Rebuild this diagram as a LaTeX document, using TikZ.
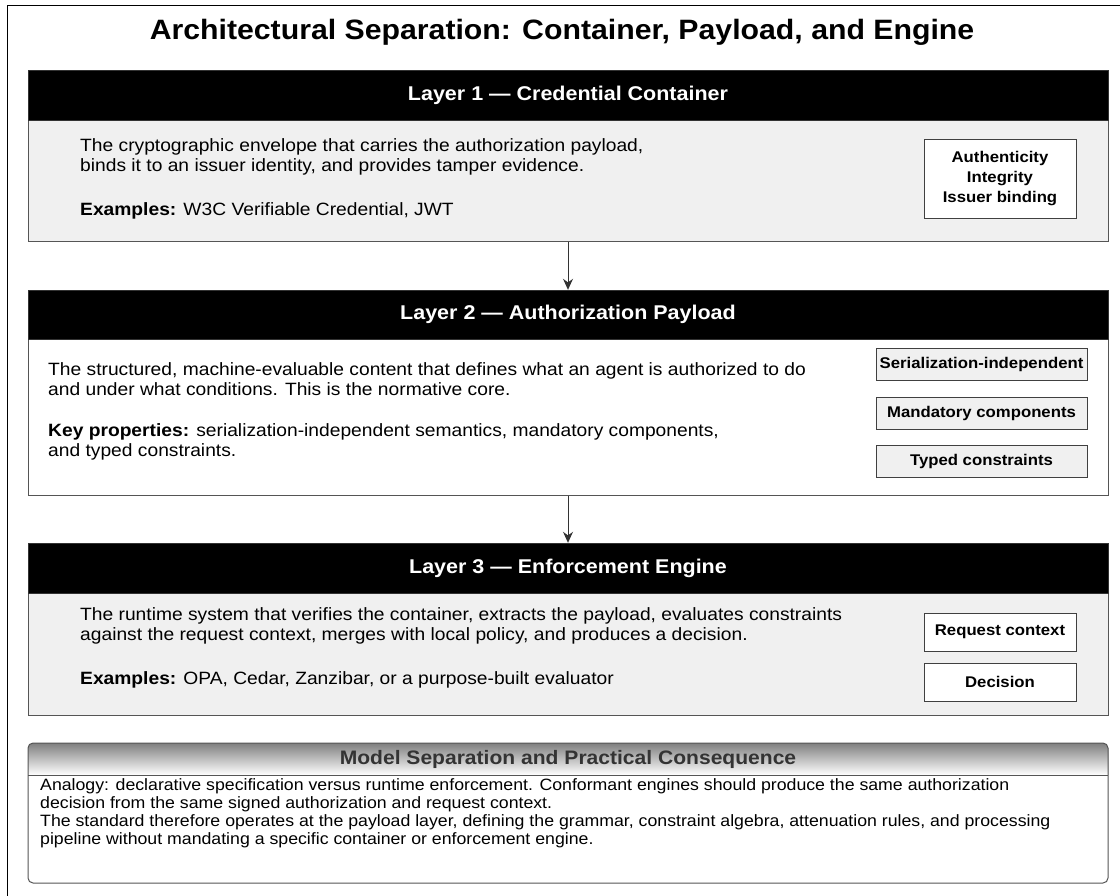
\documentclass[tikz,border=0pt]{standalone}
\usepackage{fontspec}
\setmainfont{Liberation Sans}[FakeStretch=1.08]
\usetikzlibrary{arrows.meta}
\definecolor{shade}{HTML}{F0F0F0}
\definecolor{edge}{HTML}{555555}

\begin{document}
\begin{tikzpicture}[
    x=1pt, y=-1pt,
    layerhead/.style={draw=black!80,fill=black,text=white,inner sep=0pt,minimum width=1080pt,
      font=\bfseries\fontsize{19.9}{23}\selectfont},
    layerbody/.style={draw=edge,line width=1pt,inner sep=0pt,minimum width=1080pt},
    desc/.style={anchor=west,align=left,inner sep=0pt,font=\fontsize{17.8}{20}\selectfont},
    tag/.style={draw=black!75,line width=1pt,align=center,inner sep=0pt,
      font=\bfseries\fontsize{15.5}{20}\selectfont},
    flow/.style={-{Stealth[length=11pt,width=10pt]},draw=black!80,line width=1pt}
    ]
    \useasboundingbox (0,0) rectangle (1120,895);
    \draw[line width=1pt] (7,5) rectangle (1140,915);
    \node[font=\bfseries\fontsize{28}{32}\selectfont] (title) at (562,32)
      {Architectural Separation: Container, Payload, and Engine};

    \node[layerbody,fill=shade,minimum height=121pt] (body1) at (568,180.5) {};
    \node[layerhead,minimum height=50pt] (head1) at (568,95) {Layer 1 — Credential Container};
    \node[desc] (desc1) at (80,157) {The cryptographic envelope that carries the authorization payload,\\
      binds it to an issuer identity, and provides tamper evidence.};
    \node[desc] (ex1) at (80,211) {\textbf{Examples:} W3C Verifiable Credential, JWT};
    \node[tag,fill=white,minimum width=152pt,minimum height=79pt] (props1) at (1000,178.5)
      {Authenticity\\Integrity\\Issuer binding};

    \node[layerbody,fill=white,minimum height=156pt] (body2) at (568,417) {};
    \node[layerhead,minimum height=49pt] (head2) at (568,314.5) {Layer 2 — Authorization Payload};
    \node[desc] (desc2) at (48,379) {The structured, machine-evaluable content that defines what an agent is authorized to do\\
      and under what conditions. This is the normative core.};
    \node[desc] (ex2) at (48,442) {\textbf{Key properties:} serialization-independent semantics, mandatory components,\\
      and typed constraints.};
    \node[tag,fill=shade,minimum width=211pt,minimum height=32pt] (serial) at (981.5,364) {Serialization-independent};
    \node[tag,fill=shade,minimum width=211pt,minimum height=32pt] (mandat) at (981.5,413) {Mandatory components};
    \node[tag,fill=shade,minimum width=211pt,minimum height=32pt] (typed) at (981.5,461) {Typed constraints};

    \node[layerbody,fill=shade,minimum height=122pt] (body3) at (568,654) {};
    \node[layerhead,minimum height=50pt] (head3) at (568,568) {Layer 3 — Enforcement Engine};
    \node[desc] (desc3) at (80,626) {The runtime system that verifies the container, extracts the payload, evaluates constraints\\
      against the request context, merges with local policy, and produces a decision.};
    \node[desc] (ex3) at (80,680) {\textbf{Examples:} OPA, Cedar, Zanzibar, or a purpose-built evaluator};
    \node[tag,fill=white,minimum width=152pt,minimum height=38pt] (request) at (1000,632) {Request context};
    \node[tag,fill=white,minimum width=152pt,minimum height=38pt] (decision) at (1000,682) {Decision};

    \draw[flow] (body1) -- (head2);
    \draw[flow] (body2) -- (head3);

    \fill[shade] (28,775) [rounded corners=5pt] -- (28,743) -- (1108,743) [sharp corners] -- (1108,775) -- cycle;
    \draw[edge,line width=1pt] (28,775) -- (1108,775);
    \node[draw=edge,line width=1pt,rounded corners=5pt,minimum width=1080pt,minimum height=140pt] (note) at (568,813) {};
    \node[text=black!80,font=\bfseries\fontsize{19.5}{22}\selectfont] (notehead) at (568,759)
      {Model Separation and Practical Consequence};
    \node[desc,font=\fontsize{16.4}{18}\selectfont] (notetext) at (40,813)
      {Analogy: declarative specification versus runtime enforcement. Conformant engines should produce the same authorization\\
      decision from the same signed authorization and request context.\\
      The standard therefore operates at the payload layer, defining the grammar, constraint algebra, attenuation rules, and processing\\
      pipeline without mandating a specific container or enforcement engine.};
\end{tikzpicture}
\end{document}
